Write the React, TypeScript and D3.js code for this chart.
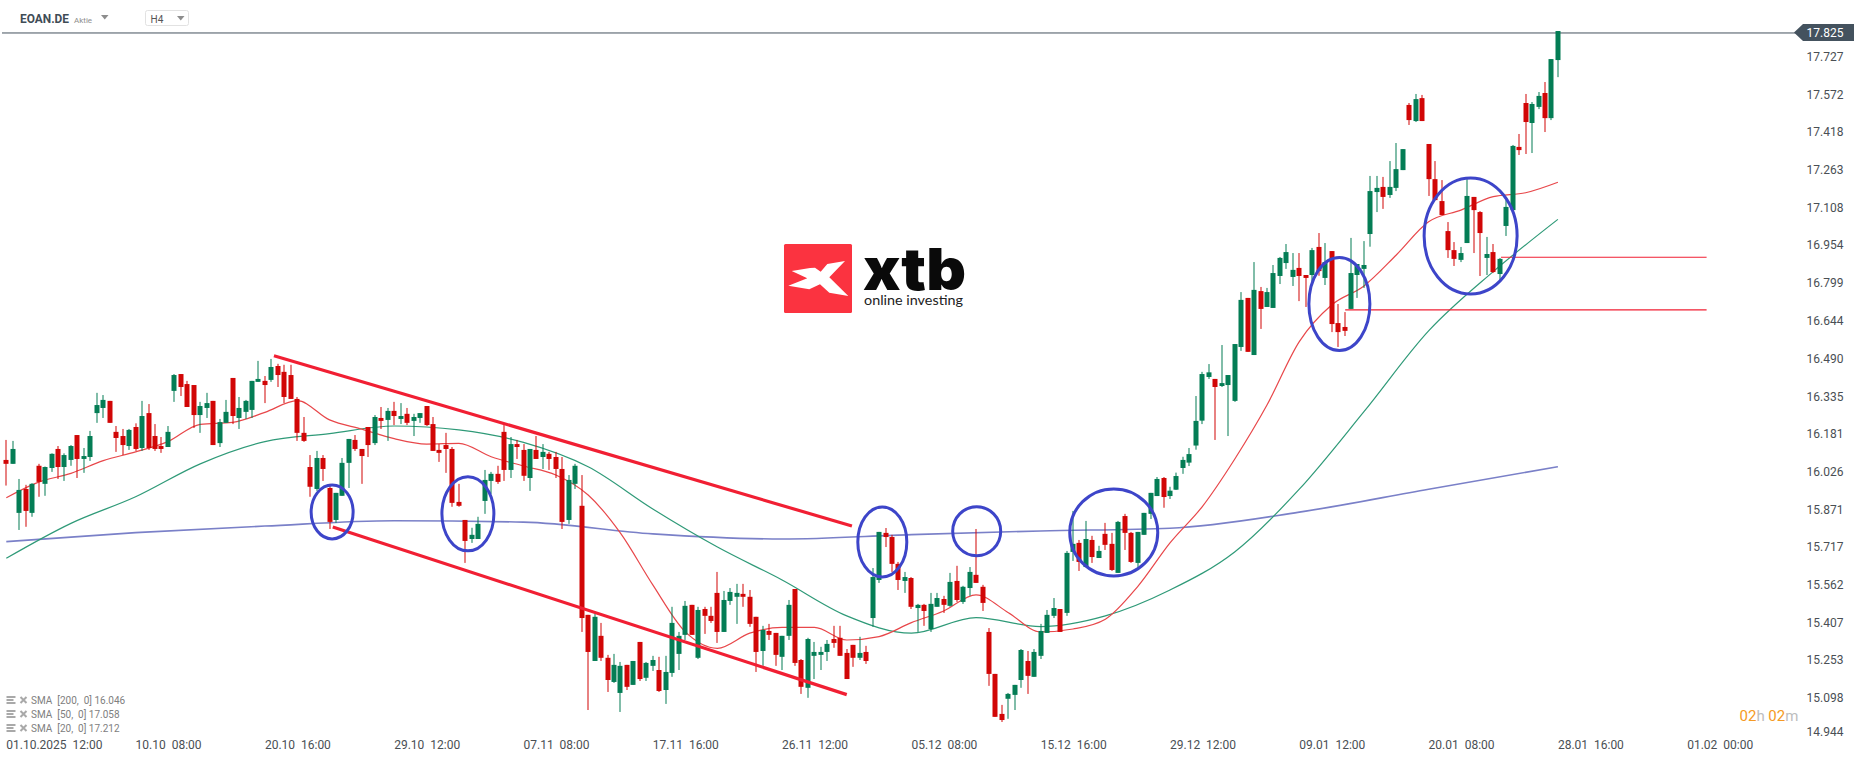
import { useEffect, useRef } from "react";
import * as d3 from "d3";

const WIDTH = 1866;
const HEIGHT = 761;

// H4 candles
const opens = [
  16.075,16.059,15.858,15.956,15.858,16.051,15.977,16.042,16.120,16.046,
  16.075,16.177,16.079,16.087,16.267,16.288,16.317,16.190,16.173,16.132,
  16.210,16.124,16.267,16.173,16.132,16.128,16.358,16.427,16.386,16.382,
  16.259,16.288,16.317,16.144,16.227,16.411,16.247,16.272,16.280,16.395,
  16.399,16.403,16.460,16.436,16.423,16.325,16.186,16.046,15.956,16.083,
  15.960,15.829,15.928,16.063,16.157,16.120,16.210,16.144,16.247,16.239,
  16.276,16.243,16.264,16.235,16.247,16.296,16.222,16.116,16.136,16.120,
  15.903,15.829,15.751,15.751,15.907,15.989,16.018,16.190,16.034,16.140,
  16.116,16.001,16.116,16.087,16.100,16.087,16.038,15.829,15.977,15.887,
  15.440,15.251,15.354,15.264,15.165,15.120,15.235,15.153,15.329,15.182,
  15.231,15.214,15.132,15.202,15.280,15.358,15.481,15.264,15.464,15.436,
  15.530,15.370,15.497,15.514,15.526,15.514,15.432,15.292,15.374,15.366,
  15.268,15.354,15.546,15.255,15.141,15.272,15.276,15.288,15.341,15.346,
  15.284,15.317,15.264,15.288,15.427,15.583,15.776,15.759,15.649,15.579,
  15.591,15.468,15.481,15.382,15.473,15.505,15.477,15.579,15.493,15.550,
  15.604,15.555,15.370,15.198,15.034,15.096,15.112,15.173,15.251,15.186,
  15.272,15.366,15.436,15.464,15.448,15.698,15.735,15.636,15.747,15.673,
  15.772,15.731,15.612,15.845,15.776,15.653,15.768,15.854,15.927,16.001,
  15.927,15.953,16.042,16.064,16.134,16.236,16.415,16.407,16.378,16.382,
  16.317,16.538,16.739,16.505,16.767,16.702,16.698,16.829,16.882,16.825,
  16.862,16.833,16.833,16.948,16.821,16.931,16.636,16.620,16.694,16.833,
  16.858,17.001,17.173,17.194,17.161,17.190,17.263,17.530,17.464,17.558,
  17.370,17.226,17.136,17.013,16.935,16.895,16.964,17.153,17.091,16.903,
  16.927,16.837,17.034,17.099,17.358,17.538,17.456,17.522,17.579,17.476,17.714,
];

const closes = [
  16.059,16.120,15.952,15.866,15.977,15.985,16.046,16.100,16.046,16.095,
  16.132,16.079,16.091,16.173,16.300,16.321,16.227,16.165,16.136,16.198,
  16.120,16.255,16.124,16.120,16.120,16.190,16.423,16.374,16.292,16.259,
  16.296,16.308,16.136,16.230,16.272,16.255,16.288,16.317,16.399,16.407,
  16.382,16.456,16.423,16.333,16.325,16.186,16.153,15.965,16.083,16.038,
  15.821,15.940,16.063,16.161,16.120,16.091,16.136,16.251,16.235,16.276,
  16.255,16.255,16.227,16.251,16.267,16.218,16.112,16.104,16.120,15.899,
  15.887,15.743,15.768,15.813,15.993,16.018,15.985,16.034,16.140,16.128,
  16.010,16.120,16.079,16.108,16.079,16.038,15.821,15.993,16.051,15.427,
  15.288,15.432,15.264,15.173,15.235,15.231,15.145,15.251,15.177,15.243,
  15.255,15.128,15.206,15.407,15.354,15.477,15.358,15.460,15.436,15.415,
  15.370,15.501,15.534,15.530,15.514,15.403,15.288,15.378,15.358,15.276,
  15.354,15.481,15.243,15.145,15.341,15.288,15.288,15.321,15.325,15.272,
  15.177,15.264,15.284,15.251,15.595,15.780,15.759,15.649,15.583,15.595,
  15.473,15.481,15.456,15.485,15.509,15.481,15.575,15.501,15.555,15.616,
  15.571,15.489,15.198,15.022,15.009,15.116,15.153,15.296,15.190,15.288,
  15.374,15.440,15.468,15.370,15.694,15.731,15.657,15.751,15.677,15.702,
  15.727,15.624,15.821,15.776,15.657,15.780,15.858,15.940,15.997,15.923,
  15.949,16.009,16.075,16.099,16.235,16.427,16.434,16.374,16.390,16.423,
  16.550,16.731,16.518,16.772,16.694,16.763,16.841,16.903,16.927,16.854,
  16.829,16.821,16.935,16.849,16.886,16.632,16.599,16.604,16.841,16.878,
  16.874,17.177,17.190,17.153,17.194,17.267,17.349,17.468,17.554,17.464,
  17.226,17.140,17.079,16.935,16.899,16.923,17.157,17.099,17.005,16.919,
  16.845,16.899,17.112,17.362,17.345,17.460,17.534,17.567,17.476,17.718,17.833,
];

const highs = [
  16.157,16.153,15.997,15.973,15.980,16.059,16.048,16.102,16.132,16.102,
  16.136,16.177,16.124,16.194,16.350,16.341,16.317,16.214,16.202,16.202,
  16.225,16.317,16.304,16.222,16.169,16.214,16.427,16.427,16.399,16.382,
  16.313,16.350,16.317,16.243,16.321,16.411,16.333,16.321,16.399,16.481,
  16.419,16.489,16.469,16.465,16.465,16.333,16.251,16.095,16.112,16.095,
  15.977,15.940,16.083,16.161,16.177,16.120,16.210,16.259,16.292,16.288,
  16.313,16.308,16.288,16.264,16.267,16.296,16.251,16.140,16.186,16.128,
  15.977,15.829,15.797,15.842,16.034,16.026,16.051,16.218,16.169,16.157,
  16.140,16.120,16.173,16.140,16.108,16.108,16.087,16.013,16.059,16.013,
  15.440,15.444,15.407,15.276,15.280,15.247,15.235,15.251,15.329,15.247,
  15.272,15.268,15.272,15.473,15.370,15.497,15.481,15.473,15.473,15.473,
  15.616,15.538,15.550,15.567,15.567,15.542,15.432,15.395,15.403,15.366,
  15.354,15.501,15.546,15.259,15.346,15.329,15.309,15.337,15.395,15.395,
  15.300,15.317,15.350,15.313,15.632,15.780,15.796,15.768,15.657,15.616,
  15.595,15.485,15.485,15.530,15.530,15.518,15.612,15.641,15.559,15.636,
  15.792,15.563,15.386,15.198,15.071,15.120,15.153,15.300,15.292,15.300,
  15.403,15.460,15.509,15.464,15.702,15.866,15.747,15.825,15.764,15.723,
  15.817,15.776,15.825,15.854,15.780,15.780,15.858,15.940,16.005,16.005,
  15.965,16.023,16.088,16.124,16.337,16.436,16.468,16.407,16.546,16.423,
  16.550,16.763,16.739,16.886,16.784,16.780,16.874,16.907,16.960,16.923,
  16.923,16.833,16.944,17.005,16.964,16.931,16.714,16.681,16.985,16.878,
  16.972,17.239,17.239,17.235,17.300,17.374,17.349,17.538,17.575,17.571,
  17.370,17.300,17.222,17.050,16.968,16.948,17.226,17.153,17.095,16.989,
  16.960,16.903,17.140,17.366,17.411,17.575,17.542,17.583,17.624,17.718,17.833,
];

const lows = [
  15.970,16.059,15.788,15.801,15.842,15.924,15.928,16.026,15.997,15.989,
  16.051,16.001,16.022,16.071,16.227,16.247,16.227,16.108,16.095,16.116,
  16.112,16.112,16.116,16.112,16.104,16.128,16.313,16.337,16.292,16.206,
  16.186,16.247,16.136,16.128,16.227,16.222,16.202,16.243,16.247,16.395,
  16.308,16.395,16.374,16.308,16.325,16.153,16.149,15.924,15.948,15.989,
  15.792,15.817,15.928,15.960,16.112,15.977,16.087,16.136,16.202,16.153,
  16.218,16.222,16.218,16.173,16.227,16.214,16.112,16.067,16.022,15.883,
  15.883,15.653,15.735,15.751,15.854,15.936,15.977,15.989,16.001,16.079,
  15.989,15.948,16.079,16.038,16.034,16.001,15.792,15.813,15.956,15.370,
  15.050,15.251,15.251,15.124,15.161,15.042,15.132,15.153,15.169,15.169,
  15.210,15.124,15.075,15.186,15.214,15.337,15.358,15.259,15.362,15.407,
  15.325,15.370,15.481,15.403,15.473,15.391,15.206,15.231,15.337,15.231,
  15.214,15.337,15.231,15.116,15.100,15.177,15.214,15.251,15.305,15.272,
  15.177,15.227,15.255,15.239,15.391,15.571,15.718,15.616,15.542,15.530,
  15.464,15.370,15.395,15.370,15.473,15.448,15.473,15.493,15.485,15.518,
  15.571,15.456,15.149,15.022,15.001,15.014,15.050,15.141,15.116,15.186,
  15.259,15.366,15.427,15.370,15.436,15.661,15.620,15.636,15.653,15.673,
  15.706,15.620,15.612,15.706,15.653,15.632,15.768,15.833,15.927,15.879,
  15.915,15.952,16.018,16.050,16.117,16.222,16.407,16.157,16.374,16.173,
  16.313,16.522,16.518,16.505,16.612,16.702,16.698,16.796,16.858,16.788,
  16.726,16.702,16.792,16.830,16.792,16.599,16.538,16.583,16.694,16.739,
  16.780,16.949,17.091,17.104,17.149,17.177,17.263,17.448,17.460,17.464,
  17.157,17.140,17.079,16.903,16.870,16.886,16.964,16.923,16.829,16.833,
  16.841,16.813,16.993,17.091,17.325,17.329,17.333,17.513,17.419,17.468,17.644,
];

// Moving averages, one reading every 5 bars (SMA 20) / 10 bars (SMA 50) / 20 bars (SMA 200)
const sma20 = [
  15.920,15.984,16.020,16.072,16.108,16.150,16.221,16.229,16.270,16.318,
  16.239,16.201,16.162,16.140,16.143,16.088,16.050,16.013,15.931,15.775,
  15.563,15.371,15.303,15.365,15.389,15.389,15.337,15.351,15.408,15.456,
  15.522,15.449,15.370,15.382,15.422,15.556,15.735,15.884,16.078,16.300,
  16.560,16.710,16.788,16.915,17.051,17.099,17.154,17.170,17.213,
];
const sma50 = [
  15.672,15.815,15.924,16.059,16.150,16.183,16.214,16.198,16.147,16.047,
  15.874,15.718,15.583,15.436,15.365,15.429,15.392,15.436,15.542,15.698,
  15.955,16.273,16.604,16.847,17.061,
];
const sma200 = [
  15.740,15.777,15.804,15.826,15.820,15.772,15.751,15.769,15.784,15.795,
  15.861,15.955,16.047,
];

const currentPrice = 17.825;
const priceTicks = [
  17.727,17.572,17.418,17.263,17.108,16.954,16.799,16.644,16.49,16.335,
  16.181,16.026,15.871,15.717,15.562,15.407,15.253,15.098,14.944,
];
const timeLabels = [
  "01.10.2025  12:00","10.10  08:00","20.10  16:00","29.10  12:00","07.11  08:00",
  "17.11  16:00","26.11  12:00","05.12  08:00","15.12  16:00","29.12  12:00",
  "09.01  12:00","20.01  08:00","28.01  16:00","01.02  00:00",
];
const legendRows = ["SMA  [200,  0] 16.046", "SMA  [50,  0] 17.058", "SMA  [20,  0] 17.212"];

// Hand drawn annotations: bar index + price
const trendLines = [
  { from: [41.4, 16.502], to: [130.8, 15.804] },
  { from: [50.5, 15.8], to: [130, 15.113] },
];
const levelLines = [
  { from: 231.2, to: 263, price: 16.906 },
  { from: 207.1, to: 263, price: 16.69 },
];
const circles = [
  { bar: 50.4, price: 15.862, rx: 21, ry: 27 },
  { bar: 71.4, price: 15.854, rx: 26, ry: 37 },
  { bar: 135.5, price: 15.739, rx: 24.5, ry: 35 },
  { bar: 150.1, price: 15.783, rx: 24, ry: 24.5 },
  { bar: 171.3, price: 15.778, rx: 44, ry: 43.5 },
  { bar: 206.2, price: 16.714, rx: 30.5, ry: 46.5 },
  { bar: 226.5, price: 16.993, rx: 46.5, ry: 58 },
];

const COLORS = {
  up: "#047d55",
  down: "#d10606",
  sma20: "#e8474a",
  sma50: "#2f9a78",
  sma200: "#7a80c8",
  annotation: "#f11f33",
  circle: "#3d45c9",
  priceLine: "#44525e",
  text: "#4a4f54",
  legend: "#808080",
};

const FONT = "Roboto, sans-serif";

export default function App() {
  const svgRef = useRef<SVGSVGElement>(null);

  useEffect(() => {
    if (!svgRef.current) return;
    const svg = d3.select(svgRef.current);
    svg.selectAll("*").remove();

    const x = d3.scaleLinear().domain([0, 260]).range([6.3, 1687.2]);
    const y = d3.scaleLinear().domain([15.098, 17.572]).range([698.3, 94.7]);

    // ============ SMA LINES ============
    const lineGroup = svg.append("g").attr("fill", "none");
    const drawSma = (values: number[], step: number, color: string, width: number) => {
      const line = d3
        .line<number>()
        .x((_, i) => x(i * step))
        .y((d) => y(d))
        .curve(d3.curveMonotoneX);
      lineGroup.append("path").attr("d", line(values)).attr("stroke", color).attr("stroke-width", width);
    };
    drawSma(sma200, 20, COLORS.sma200, 1.6);
    drawSma(sma50, 10, COLORS.sma50, 1.2);
    drawSma(sma20, 5, COLORS.sma20, 1.2);

    // Current price line goes under the candles
    svg
      .append("line")
      .attr("x1", 2)
      .attr("x2", 1796)
      .attr("y1", y(currentPrice))
      .attr("y2", y(currentPrice))
      .attr("stroke", COLORS.priceLine)
      .attr("stroke-width", 1);

    // ============ CANDLES ============
    const candles = svg.append("g");
    const barWidth = 5;
    opens.forEach((open, i) => {
      const close = closes[i];
      const color = close >= open ? COLORS.up : COLORS.down;
      const cx = Math.round(x(i));
      candles
        .append("rect")
        .attr("x", cx - 0.5)
        .attr("width", 1)
        .attr("y", y(highs[i]))
        .attr("height", Math.max(y(lows[i]) - y(highs[i]), 1))
        .attr("fill", color);
      const top = Math.min(y(open), y(close));
      candles
        .append("rect")
        .attr("x", cx - barWidth / 2)
        .attr("width", barWidth)
        .attr("y", top)
        .attr("height", Math.max(Math.abs(y(open) - y(close)), 1))
        .attr("fill", color);
    });

    // ============ ANNOTATIONS ============
    const notes = svg.append("g").attr("fill", "none");
    trendLines.forEach((t) => {
      notes
        .append("line")
        .attr("x1", x(t.from[0]))
        .attr("y1", y(t.from[1]))
        .attr("x2", x(t.to[0]))
        .attr("y2", y(t.to[1]))
        .attr("stroke", COLORS.annotation)
        .attr("stroke-width", 3.2);
    });
    levelLines.forEach((l) => {
      notes
        .append("line")
        .attr("x1", x(l.from))
        .attr("x2", x(l.to))
        .attr("y1", y(l.price))
        .attr("y2", y(l.price))
        .attr("stroke", COLORS.annotation)
        .attr("stroke-width", 1.1);
    });
    circles.forEach((c) => {
      notes
        .append("ellipse")
        .attr("cx", x(c.bar))
        .attr("cy", y(c.price))
        .attr("rx", c.rx)
        .attr("ry", c.ry)
        .attr("stroke", COLORS.circle)
        .attr("stroke-width", 3);
    });

    // ============ AXES ============
    const axis = svg.append("g").attr("font-family", FONT).attr("font-size", 12).attr("fill", COLORS.text);
    priceTicks.forEach((p) => {
      axis
        .append("text")
        .attr("x", 1806.5)
        .attr("y", Math.min(y(p), 732))
        .attr("dominant-baseline", "central")
        .text(p.toFixed(3));
    });
    timeLabels.forEach((label, i) => {
      axis
        .append("text")
        .attr("x", x(i * 20))
        .attr("y", 745)
        .attr("dominant-baseline", "central")
        .style("white-space", "pre")
        .text(label);
    });

    // Price tag
    svg
      .append("path")
      .attr("d", "M1794,32.5 L1803,24 L1854,24 L1854,41 L1803,41 Z")
      .attr("fill", COLORS.priceLine);
    svg
      .append("text")
      .attr("x", 1806.5)
      .attr("y", 33)
      .attr("dominant-baseline", "central")
      .attr("font-family", FONT)
      .attr("font-size", 12)
      .attr("fill", "#fff")
      .text(currentPrice.toFixed(3));

    // ============ LEGEND ============
    const legend = svg.append("g");
    legendRows.forEach((row, i) => {
      const rowY = 700.5 + i * 14;
      const g = legend.append("g").attr("transform", `translate(0,${rowY})`);
      [-4.5, -1.5, 1.5].forEach((dy, j) => {
        g.append("rect")
          .attr("x", 6.5)
          .attr("y", dy)
          .attr("width", j === 1 ? 7 : 9)
          .attr("height", 2)
          .attr("fill", "#a9a9a9");
      });
      g.append("path")
        .attr("d", "M20.5,-3.5 L26.5,2.5 M26.5,-3.5 L20.5,2.5")
        .attr("stroke", "#a9a9a9")
        .attr("stroke-width", 2);
      g.append("text")
        .attr("x", 31)
        .attr("y", 0)
        .attr("dominant-baseline", "central")
        .attr("font-family", FONT)
        .attr("font-size", 10)
        .attr("fill", COLORS.legend)
        .style("white-space", "pre")
        .text(row);
    });

    // ============ HEADER ============
    const header = svg.append("g").attr("font-family", FONT);
    header
      .append("text")
      .attr("x", 20)
      .attr("y", 23)
      .attr("font-size", 12)
      .attr("font-weight", 700)
      .attr("fill", "#3f4c56")
      .attr("textLength", 49)
      .attr("lengthAdjust", "spacingAndGlyphs")
      .text("EOAN.DE");
    header
      .append("text")
      .attr("x", 74)
      .attr("y", 23)
      .attr("font-size", 8)
      .attr("fill", "#8d8d8d")
      .text("Aktie");
    header.append("path").attr("d", "M101,15 L108.5,15 L104.75,19.5 Z").attr("fill", "#8d8d8d");
    header
      .append("rect")
      .attr("x", 145.5)
      .attr("y", 10.5)
      .attr("width", 43)
      .attr("height", 15)
      .attr("rx", 2)
      .attr("fill", "#fff")
      .attr("stroke", "#e2e2e2");
    header
      .append("text")
      .attr("x", 150.5)
      .attr("y", 23)
      .attr("font-size", 10)
      .attr("fill", "#555")
      .text("H4");
    header.append("path").attr("d", "M177,16 L184.5,16 L180.75,20.5 Z").attr("fill", "#8d8d8d");

    // ============ COUNTDOWN ============
    const countdown = svg
      .append("text")
      .attr("x", 1739.5)
      .attr("y", 716)
      .attr("dominant-baseline", "central")
      .attr("font-family", FONT)
      .attr("font-size", 15)
      .style("white-space", "pre");
    [
      ["02", "#f59a23"],
      ["h ", "#bdbdbd"],
      ["02", "#f59a23"],
      ["m", "#bdbdbd"],
    ].forEach(([t, c]) => countdown.append("tspan").attr("fill", c).text(t));

    // ============ LOGO ============
    const logo = svg.append("g");
    logo
      .append("rect")
      .attr("x", 784)
      .attr("y", 244)
      .attr("width", 68)
      .attr("height", 69)
      .attr("rx", 1.5)
      .attr("fill", "#fb3340");
    logo
      .append("path")
      .attr(
        "d",
        "M791.7,271 L810,268 L815,267.7 L820.7,271.7 L827.3,264 L845,261 L829.3,277.3 L848.3,296 L829.3,292.7 L820,284.3 L809.3,289.3 L788.3,285.7 L807.3,278.3 Z"
      )
      .attr("fill", "#fff");
    logo
      .append("text")
      .attr("x", 863)
      .attr("y", 290)
      .attr("font-family", "Inter, sans-serif")
      .attr("font-size", 58)
      .attr("font-weight", 900)
      .attr("fill", "#0a0a0a")
      .attr("textLength", 103)
      .attr("lengthAdjust", "spacingAndGlyphs")
      .text("xtb");
    logo
      .append("text")
      .attr("x", 864)
      .attr("y", 305)
      .attr("font-family", "Lato, sans-serif")
      .attr("font-size", 14)
      .attr("fill", "#222")
      .attr("textLength", 99)
      .attr("lengthAdjust", "spacingAndGlyphs")
      .text("online investing");
  }, []);

  return (
    <svg
      ref={svgRef}
      width={WIDTH}
      height={HEIGHT}
      style={{ position: "fixed", left: 0, top: 0, display: "block", background: "#fff" }}
    />
  );
}
